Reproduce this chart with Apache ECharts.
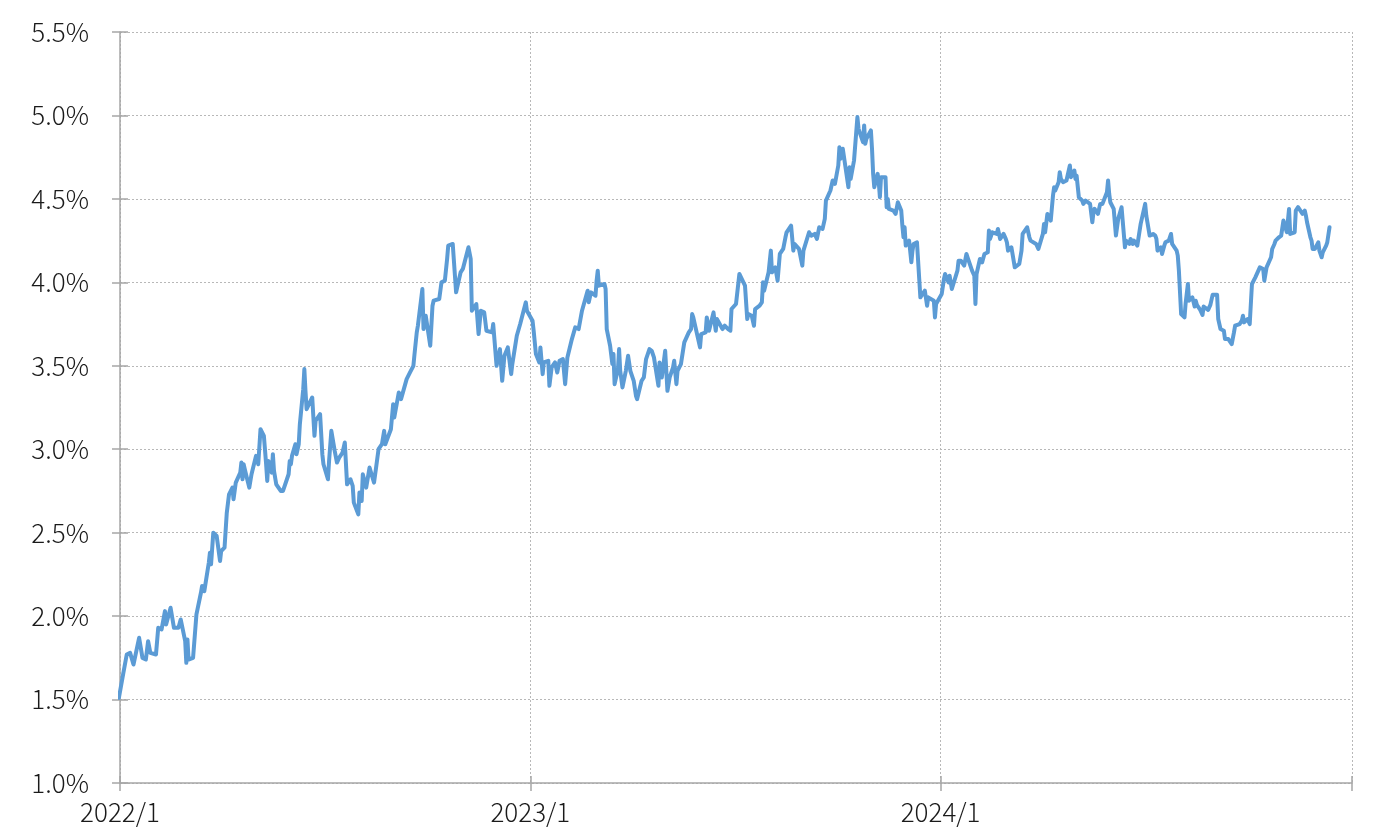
<!DOCTYPE html>
<html><head><meta charset="utf-8">
<script src="https://cdn.jsdelivr.net/npm/echarts@6/dist/echarts.min.js"></script>
<style>html,body{margin:0;padding:0;background:#fff}#c{width:1394px;height:835px}</style>
</head><body><div id="c"></div>
<script>
const dates2022 = ['2021-12-31','2022-01-04','2022-01-07','2022-01-10','2022-01-13','2022-01-18','2022-01-21','2022-01-24','2022-01-26','2022-01-28','2022-02-02','2022-02-04','2022-02-07','2022-02-10','2022-02-11','2022-02-15','2022-02-18','2022-02-22','2022-02-24','2022-02-28','2022-03-01','2022-03-02','2022-03-03','2022-03-07','2022-03-10','2022-03-14','2022-03-15','2022-03-17','2022-03-21','2022-03-22','2022-03-23','2022-03-25','2022-03-28','2022-03-31','2022-04-01','2022-04-04','2022-04-06','2022-04-08','2022-04-11','2022-04-12','2022-04-14','2022-04-18','2022-04-19','2022-04-20','2022-04-21','2022-04-22','2022-04-26','2022-04-28','2022-05-02','2022-05-04','2022-05-06','2022-05-09','2022-05-11','2022-05-12','2022-05-13','2022-05-16','2022-05-17','2022-05-18','2022-05-20','2022-05-24','2022-05-26','2022-05-27','2022-05-31','2022-06-01','2022-06-02','2022-06-03','2022-06-06','2022-06-07','2022-06-09','2022-06-10','2022-06-13','2022-06-14','2022-06-15','2022-06-16','2022-06-17','2022-06-21','2022-06-23','2022-06-24','2022-06-28','2022-06-30','2022-07-01','2022-07-05','2022-07-06','2022-07-08','2022-07-11','2022-07-13','2022-07-15','2022-07-18','2022-07-20','2022-07-22','2022-07-25','2022-07-27','2022-07-28','2022-08-01','2022-08-02','2022-08-04','2022-08-05','2022-08-08','2022-08-11','2022-08-15','2022-08-17','2022-08-19','2022-08-22','2022-08-24','2022-08-25','2022-08-30','2022-09-01','2022-09-02','2022-09-06','2022-09-08','2022-09-13','2022-09-16','2022-09-19','2022-09-20','2022-09-22','2022-09-23','2022-09-27','2022-09-28','2022-09-30','2022-10-04','2022-10-06','2022-10-07','2022-10-12','2022-10-14','2022-10-17','2022-10-19','2022-10-20','2022-10-24','2022-10-27','2022-10-31','2022-11-02','2022-11-07','2022-11-09','2022-11-10','2022-11-14','2022-11-16','2022-11-18','2022-11-21','2022-11-23','2022-11-28','2022-11-29','2022-12-02','2022-12-05','2022-12-07','2022-12-09','2022-12-12','2022-12-15','2022-12-16','2022-12-20','2022-12-23','2022-12-28','2022-12-29','2022-12-30'];
const yields2022 = [1.51,1.66,1.77,1.78,1.71,1.87,1.75,1.74,1.85,1.78,1.77,1.93,1.92,2.03,1.95,2.05,1.93,1.93,1.98,1.85,1.72,1.86,1.74,1.75,2.01,2.14,2.18,2.15,2.32,2.38,2.31,2.50,2.48,2.33,2.39,2.41,2.62,2.73,2.77,2.70,2.80,2.86,2.92,2.82,2.91,2.88,2.77,2.85,2.96,2.91,3.12,3.08,2.91,2.81,2.93,2.86,2.97,2.87,2.79,2.75,2.75,2.745,2.85,2.93,2.91,2.96,3.03,2.97,3.03,3.15,3.36,3.48,3.35,3.24,3.24,3.31,3.08,3.17,3.21,2.97,2.91,2.82,2.93,3.11,2.99,2.92,2.95,2.98,3.04,2.79,2.82,2.78,2.68,2.61,2.74,2.69,2.85,2.77,2.89,2.80,2.90,3.00,3.03,3.11,3.03,3.12,3.27,3.19,3.34,3.30,3.42,3.46,3.50,3.57,3.70,3.74,3.96,3.72,3.80,3.62,3.86,3.89,3.90,4.00,4.01,4.14,4.22,4.23,3.94,4.06,4.08,4.21,4.14,3.83,3.87,3.69,3.83,3.82,3.71,3.70,3.75,3.50,3.60,3.41,3.56,3.61,3.45,3.51,3.68,3.75,3.88,3.83,3.84];

const dates2023 = ['2023-01-03','2023-01-04','2023-01-06','2023-01-09','2023-01-10','2023-01-12','2023-01-13','2023-01-17','2023-01-18','2023-01-20','2023-01-23','2023-01-25','2023-01-27','2023-01-30','2023-02-01','2023-02-03','2023-02-07','2023-02-10','2023-02-13','2023-02-16','2023-02-17','2023-02-21','2023-02-22','2023-02-24','2023-02-28','2023-03-01','2023-03-02','2023-03-03','2023-03-08','2023-03-09','2023-03-10','2023-03-13','2023-03-15','2023-03-16','2023-03-17','2023-03-20','2023-03-21','2023-03-22','2023-03-24','2023-03-27','2023-03-29','2023-03-30','2023-03-31','2023-04-03','2023-04-05','2023-04-06','2023-04-10','2023-04-12','2023-04-14','2023-04-17','2023-04-19','2023-04-21','2023-04-25','2023-04-26','2023-04-28','2023-05-01','2023-05-03','2023-05-05','2023-05-08','2023-05-09','2023-05-11','2023-05-12','2023-05-15','2023-05-18','2023-05-22','2023-05-24','2023-05-25','2023-05-26','2023-05-30','2023-06-01','2023-06-02','2023-06-06','2023-06-07','2023-06-09','2023-06-13','2023-06-14','2023-06-15','2023-06-16','2023-06-21','2023-06-23','2023-06-26','2023-06-28','2023-06-29','2023-06-30','2023-07-03','2023-07-06','2023-07-07','2023-07-11','2023-07-13','2023-07-14','2023-07-17','2023-07-19','2023-07-20','2023-07-24','2023-07-26','2023-07-27','2023-07-28','2023-08-01','2023-08-03','2023-08-04','2023-08-07','2023-08-09','2023-08-11','2023-08-14','2023-08-16','2023-08-17','2023-08-21','2023-08-23','2023-08-24','2023-08-28','2023-08-31','2023-09-01','2023-09-06','2023-09-08','2023-09-11','2023-09-13','2023-09-15','2023-09-18','2023-09-20','2023-09-21','2023-09-25','2023-09-27','2023-09-29','2023-10-02','2023-10-03','2023-10-04','2023-10-06','2023-10-11','2023-10-12','2023-10-13','2023-10-16','2023-10-19','2023-10-20','2023-10-24','2023-10-25','2023-10-26','2023-10-27','2023-10-31','2023-11-01','2023-11-02','2023-11-03','2023-11-06','2023-11-07','2023-11-08','2023-11-09','2023-11-13','2023-11-14','2023-11-15','2023-11-16','2023-11-20','2023-11-22','2023-11-24','2023-11-27','2023-11-28','2023-11-29','2023-11-30','2023-12-01','2023-12-04','2023-12-06','2023-12-07','2023-12-08','2023-12-11','2023-12-12','2023-12-13','2023-12-14','2023-12-15','2023-12-18','2023-12-20','2023-12-21','2023-12-22','2023-12-26','2023-12-27','2023-12-28','2023-12-29'];
const yields2023 = [3.77,3.71,3.57,3.52,3.61,3.45,3.52,3.53,3.38,3.49,3.52,3.46,3.53,3.54,3.39,3.55,3.66,3.73,3.72,3.83,3.83,3.95,3.88,3.94,3.92,4.01,4.07,3.98,3.99,3.96,3.72,3.62,3.51,3.57,3.39,3.48,3.60,3.47,3.37,3.47,3.56,3.55,3.47,3.41,3.32,3.30,3.41,3.43,3.54,3.60,3.59,3.55,3.38,3.52,3.43,3.59,3.35,3.43,3.49,3.53,3.39,3.47,3.51,3.64,3.70,3.72,3.81,3.79,3.67,3.61,3.69,3.70,3.79,3.71,3.82,3.76,3.71,3.78,3.72,3.74,3.72,3.71,3.84,3.85,3.87,4.05,4.04,3.98,3.78,3.81,3.80,3.74,3.84,3.86,3.88,4.00,3.95,4.06,4.19,4.06,4.09,4.01,4.17,4.20,4.27,4.30,4.34,4.19,4.23,4.20,4.10,4.19,4.30,4.28,4.29,4.26,4.33,4.32,4.38,4.49,4.55,4.61,4.59,4.70,4.81,4.74,4.80,4.57,4.69,4.62,4.73,4.99,4.92,4.84,4.94,4.83,4.86,4.91,4.80,4.65,4.57,4.65,4.60,4.51,4.63,4.63,4.45,4.50,4.44,4.43,4.41,4.48,4.43,4.34,4.27,4.33,4.22,4.25,4.12,4.19,4.23,4.24,4.23,4.02,3.91,3.92,3.95,3.86,3.91,3.90,3.89,3.79,3.87,3.88];

const dates2024 = ['2024-01-02','2024-01-04','2024-01-05','2024-01-08','2024-01-09','2024-01-11','2024-01-12','2024-01-16','2024-01-17','2024-01-19','2024-01-22','2024-01-24','2024-01-25','2024-01-29','2024-01-31','2024-02-01','2024-02-02','2024-02-05','2024-02-07','2024-02-09','2024-02-12','2024-02-13','2024-02-14','2024-02-16','2024-02-20','2024-02-21','2024-02-22','2024-02-23','2024-02-26','2024-02-27','2024-02-28','2024-02-29','2024-03-01','2024-03-04','2024-03-06','2024-03-07','2024-03-08','2024-03-11','2024-03-13','2024-03-14','2024-03-18','2024-03-19','2024-03-20','2024-03-21','2024-03-22','2024-03-26','2024-03-28','2024-04-01','2024-04-02','2024-04-03','2024-04-05','2024-04-08','2024-04-10','2024-04-11','2024-04-12','2024-04-15','2024-04-16','2024-04-17','2024-04-19','2024-04-22','2024-04-23','2024-04-25','2024-04-26','2024-04-29','2024-04-30','2024-05-01','2024-05-03','2024-05-06','2024-05-07','2024-05-09','2024-05-10','2024-05-13','2024-05-15','2024-05-16','2024-05-17','2024-05-20','2024-05-22','2024-05-24','2024-05-28','2024-05-29','2024-05-30','2024-05-31','2024-06-03','2024-06-04','2024-06-05','2024-06-07','2024-06-10','2024-06-11','2024-06-13','2024-06-14','2024-06-17','2024-06-18','2024-06-20','2024-06-21','2024-06-24','2024-06-27','2024-07-01','2024-07-02','2024-07-05','2024-07-08','2024-07-10','2024-07-11','2024-07-12','2024-07-15','2024-07-16','2024-07-18','2024-07-19','2024-07-22','2024-07-24','2024-07-25','2024-07-29','2024-07-30','2024-07-31','2024-08-02','2024-08-05','2024-08-06','2024-08-08','2024-08-09','2024-08-12','2024-08-14','2024-08-15','2024-08-16','2024-08-19','2024-08-21','2024-08-22','2024-08-26','2024-08-28','2024-08-30','2024-09-03','2024-09-04','2024-09-06','2024-09-09','2024-09-10','2024-09-13','2024-09-16','2024-09-18','2024-09-19','2024-09-23','2024-09-25','2024-09-26','2024-09-27','2024-09-30','2024-10-02','2024-10-04','2024-10-07','2024-10-09','2024-10-11','2024-10-14','2024-10-15','2024-10-17','2024-10-21','2024-10-22','2024-10-24','2024-10-25','2024-10-28','2024-10-30','2024-11-01','2024-11-04','2024-11-05','2024-11-06','2024-11-07','2024-11-08','2024-11-11','2024-11-12','2024-11-14','2024-11-15','2024-11-18','2024-11-20','2024-11-21','2024-11-22','2024-11-25','2024-11-26','2024-11-27','2024-11-29','2024-12-02','2024-12-03','2024-12-05','2024-12-06','2024-12-09','2024-12-10','2024-12-12'];
const yields2024 = [3.93,4.02,4.05,4.00,4.04,3.96,3.95,4.07,4.13,4.13,4.10,4.17,4.15,4.07,4.04,3.87,4.05,4.14,4.12,4.17,4.18,4.31,4.26,4.30,4.29,4.32,4.32,4.26,4.29,4.30,4.26,4.24,4.19,4.21,4.13,4.09,4.09,4.11,4.19,4.29,4.33,4.32,4.27,4.25,4.24,4.23,4.20,4.29,4.35,4.30,4.41,4.37,4.52,4.57,4.55,4.60,4.66,4.62,4.60,4.61,4.60,4.70,4.63,4.67,4.62,4.64,4.51,4.49,4.47,4.49,4.50,4.47,4.36,4.42,4.44,4.41,4.47,4.47,4.54,4.61,4.53,4.48,4.44,4.36,4.28,4.38,4.45,4.37,4.21,4.25,4.23,4.26,4.23,4.25,4.22,4.35,4.47,4.40,4.28,4.29,4.28,4.26,4.19,4.21,4.17,4.22,4.24,4.25,4.29,4.23,4.19,4.16,4.07,3.81,3.79,3.875,3.99,3.89,3.91,3.855,3.89,3.865,3.835,3.805,3.855,3.835,3.865,3.925,3.925,3.78,3.72,3.71,3.66,3.66,3.63,3.70,3.74,3.75,3.77,3.80,3.76,3.78,3.75,3.99,4.03,4.06,4.09,4.08,4.01,4.09,4.15,4.20,4.23,4.25,4.27,4.28,4.37,4.30,4.30,4.44,4.29,4.30,4.30,4.43,4.45,4.44,4.41,4.43,4.40,4.36,4.27,4.25,4.20,4.20,4.24,4.19,4.15,4.18,4.22,4.24,4.33];

const xTickLabels = ['2022/1', '2023/1', '2024/1', ''];
const yMin = 1.0, yMax = 5.5, yStep = 0.5;

const dates = dates2022.concat(dates2023, dates2024);
const yields = yields2022.concat(yields2023, yields2024);
const seriesData = dates.map((d, i) => [d, yields[i]]);

const FONT = "'Noto Sans CJK JP', 'Noto Sans', sans-serif";
const AXIS_COLOR = '#a6a6a6';
const DAY = 86400000;

const chart = echarts.init(document.getElementById('c'), null, {renderer: 'canvas'});
const xBase = {
  type: 'time', gridIndex: 0, position: 'bottom', offset: 0,
  min: '2022-01-01', max: '2025-01-01',
  minInterval: 365 * DAY, maxInterval: 366 * DAY
};
const yBase = {
  type: 'value', gridIndex: 0, position: 'left', offset: 0,
  min: yMin, max: yMax, interval: yStep
};
chart.setOption({
  animation: false,
  backgroundColor: '#ffffff',
  grid: {left: 120, right: 42, top: 32, bottom: 52, containLabel: false},
  xAxis: [
    Object.assign({}, xBase, {
      axisLine: {show: true, lineStyle: {color: AXIS_COLOR, width: 1.5}},
      axisTick: {show: true, inside: false, length: 8, lineStyle: {color: AXIS_COLOR, width: 1.5}},
      splitLine: {show: true, lineStyle: {color: '#b8b8b8', type: [2, 2], width: 1}},
      axisLabel: {
        show: true, margin: 16, color: '#1a1a1a', fontFamily: FONT, fontSize: 26, fontWeight: 300,
        showMinLabel: true, showMaxLabel: true,
        formatter: function (val) {
          const idx = new Date(val).getFullYear() - 2022;
          return xTickLabels[idx] !== undefined ? xTickLabels[idx] : '';
        }
      }
    }),
    Object.assign({}, xBase, {
      axisLine: {show: false},
      axisTick: {show: true, inside: true, length: 7, lineStyle: {color: AXIS_COLOR, width: 1.5}},
      splitLine: {show: false},
      axisLabel: {show: false}
    })
  ],
  yAxis: [
    Object.assign({}, yBase, {
      axisLine: {show: true, lineStyle: {color: AXIS_COLOR, width: 1.5}},
      axisTick: {show: true, inside: false, length: 8, lineStyle: {color: AXIS_COLOR, width: 1.5}},
      splitLine: {show: true, lineStyle: {color: '#b8b8b8', type: [2, 2], width: 1}},
      axisLabel: {
        show: true, margin: 31, color: '#1a1a1a', fontFamily: FONT, fontSize: 26, fontWeight: 300,
        formatter: v => v.toFixed(1) + '%'
      }
    }),
    Object.assign({}, yBase, {
      axisLine: {show: false},
      axisTick: {show: true, inside: true, length: 8, lineStyle: {color: AXIS_COLOR, width: 1.5}},
      splitLine: {show: false},
      axisLabel: {show: false}
    })
  ],
  series: [{
    type: 'line', xAxisIndex: 0, yAxisIndex: 0,
    data: seriesData,
    showSymbol: false, symbol: 'none',
    lineStyle: {color: '#5B9BD5', width: 4, join: 'round', cap: 'round'},
    clip: true
  }]
});
</script>
</body></html>
